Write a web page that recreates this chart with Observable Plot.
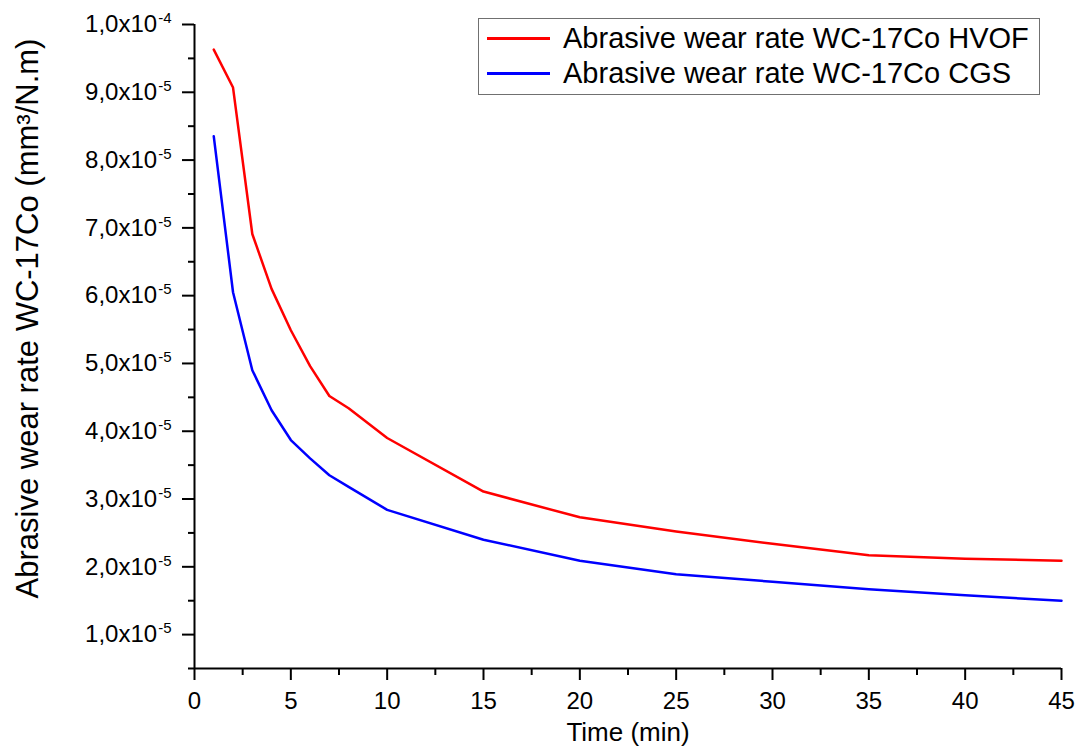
<!DOCTYPE html>
<html>
<head>
<meta charset="utf-8">
<script src="https://cdn.jsdelivr.net/npm/d3@7"></script>
<script src="https://cdn.jsdelivr.net/npm/@observablehq/plot@0.6"></script>
<style>
  body { margin: 0; background: #fff; }
  #wrap { position: relative; width: 1081px; height: 754px; font-family: "Liberation Sans", Arial, sans-serif; }
  #wrap svg g[aria-label="y-axis tick label"], #wrap svg g[aria-label="x-axis tick label"] { font-size: 24px; }
  #legend { position: absolute; left: 478px; top: 18px; width: 562px; height: 77px; border: 1px solid #707070; background: #fff; box-sizing: border-box; }
  .row { position: absolute; left: 0; height: 36px; display: flex; align-items: center; font-size: 29px; white-space: nowrap; color: #000; }
  .sw { width: 63px; height: 3px; margin-left: 8px; margin-right: 13px; }
</style>
</head>
<body>
<div id="wrap"></div>
<script>
// Time (min)
const times = [1, 2, 3, 4, 5, 6, 7, 8, 10, 15, 20, 25, 30, 35, 40, 45];
// Wear rate values in units of 1e-5 mm^3/N.m
const hvof = [9.63, 9.07, 6.91, 6.10, 5.49, 4.96, 4.52, 4.34, 3.90, 3.11, 2.73, 2.52, 2.34, 2.17, 2.12, 2.09];
const cgs  = [8.35, 6.05, 4.90, 4.31, 3.87, 3.60, 3.35, 3.18, 2.84, 2.40, 2.09, 1.89, 1.78, 1.67, 1.58, 1.50];
const seriesNames = ["Abrasive wear rate WC-17Co HVOF", "Abrasive wear rate WC-17Co CGS"];
const seriesColors = ["#ff0000", "#0000ff"];

const xTicks = [0, 5, 10, 15, 20, 25, 30, 35, 40, 45];
const xMinor = [2.5, 7.5, 12.5, 17.5, 22.5, 27.5, 32.5, 37.5, 42.5];
const yTicks = [1, 2, 3, 4, 5, 6, 7, 8, 9, 10];
const yMinor = [0.5, 1.5, 2.5, 3.5, 4.5, 5.5, 6.5, 7.5, 8.5, 9.5];
const xDomain = [0, 45];
const yDomain = [0.5, 10];
const xLabel = "Time (min)";
const yLabel = "Abrasive wear rate WC-17Co (mm³/N.m)";

const data = [];
times.forEach((t, i) => {
  data.push({time: t, rate: hvof[i], series: seriesNames[0]});
});
times.forEach((t, i) => {
  data.push({time: t, rate: cgs[i], series: seriesNames[1]});
});

function yFmt(v) {
  if (v >= 10) return "1,0x10|-4";
  return v.toFixed(1).replace(".", ",") + "x10|-5";
}

const chart = Plot.plot({
  width: 1081,
  height: 754,
  marginLeft: 194,
  marginRight: 20,
  marginTop: 24,
  marginBottom: 86,
  style: {fontFamily: "'Liberation Sans', Arial, sans-serif", fontSize: "24px", color: "#000", background: "#fff"},
  x: {domain: xDomain},
  y: {domain: yDomain},
  color: {domain: seriesNames, range: seriesColors},
  marks: [
    Plot.axisX({ticks: xTicks, tickSize: 12, tickPadding: 11, strokeWidth: 2, tickFormat: d => String(d), label: null, fontSize: 24}),
    Plot.axisX({ticks: xMinor, tickSize: 7, strokeWidth: 2, tickFormat: () => "", label: null}),
    Plot.axisY({ticks: yTicks, tickSize: 12, tickPadding: 11, strokeWidth: 2, tickFormat: yFmt, label: null, fontSize: 24}),
    Plot.axisY({ticks: yMinor, tickSize: 6, strokeWidth: 2, tickFormat: () => "", label: null}),
    Plot.ruleX([xDomain[0]], {y1: yDomain[0], y2: yDomain[1], strokeWidth: 2}),
    Plot.ruleY([yDomain[0]], {x1: xDomain[0], x2: xDomain[1], strokeWidth: 2}),
    Plot.line(data, {x: "time", y: "rate", stroke: "series", strokeWidth: 2.5, curve: "linear"}),
    Plot.text([xLabel], {frameAnchor: "bottom", dy: 72, fontSize: 26, fill: "#000"}),
    Plot.text([yLabel], {frameAnchor: "left", textAnchor: "middle", dx: -166, dy: -28, rotate: -90, fontSize: 31, fill: "#000"})
  ]
});

// superscript exponents in y tick labels
d3.select(chart).selectAll("text").each(function() {
  const s = this.textContent;
  if (s.includes("|")) {
    const [main, exp] = s.split("|");
    const t = d3.select(this);
    t.text(null);
    t.append("tspan").text(main);
    t.append("tspan").attr("dx", "1").attr("dy", "-9").attr("font-size", "15px").text(exp);
  }
});

const wrap = document.getElementById("wrap");
wrap.appendChild(chart);

const legend = document.createElement("div");
legend.id = "legend";
const rowTops = [1, 36];
seriesNames.forEach((name, i) => {
  const row = document.createElement("div");
  row.className = "row";
  row.style.top = rowTops[i] + "px";
  const sw = document.createElement("div");
  sw.className = "sw";
  sw.style.background = seriesColors[i];
  const lab = document.createElement("span");
  lab.textContent = name;
  row.appendChild(sw);
  row.appendChild(lab);
  legend.appendChild(row);
});
wrap.appendChild(legend);
</script>
</body>
</html>
